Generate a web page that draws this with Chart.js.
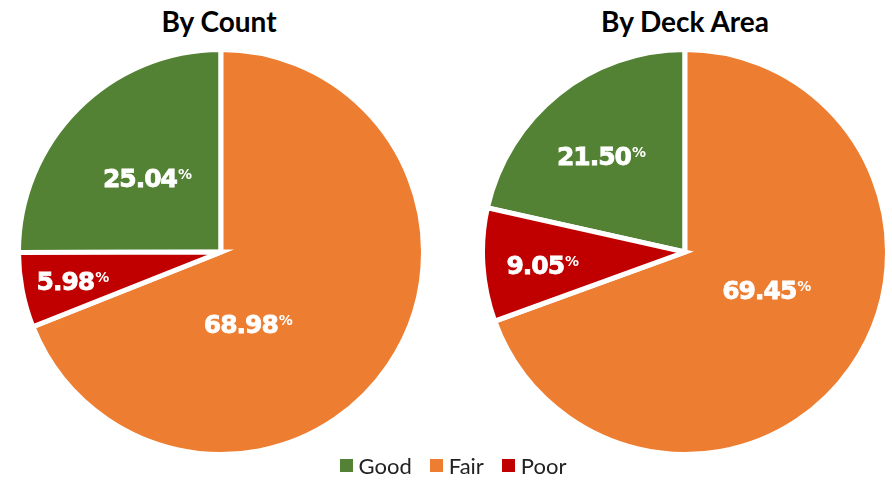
<!DOCTYPE html>
<html lang="en">
<head>
  <meta charset="UTF-8">
  <title>Deck Condition</title>
  <style>
    body { margin: 0; padding: 0; background: #fff; width: 892px; height: 480px; overflow: hidden; position: relative; font-family: Lato, "Open Sans", sans-serif; }
    .title { position: absolute; top: 4px; width: 420px; text-align: center; font-weight: 700; font-size: 28px; color: #000; }
    .pie { position: absolute; top: 47px; }
    .legend { position: absolute; top: 452px; left: 0; width: 892px; display: flex; justify-content: center; gap: 18px; font-size: 22px; color: #222; padding-left: 14px; box-sizing: border-box; }
    .legend span { display: flex; align-items: center; }
    .legend i { display: inline-block; width: 13px; height: 13px; margin-right: 6px; }
  </style>
  <script src="https://cdn.jsdelivr.net/npm/chart.js"></script>
</head>
<body>
  <div class="title" id="t0" style="left:9px"></div>
  <div class="title" id="t1" style="left:475px"></div>
  <canvas class="pie" id="pie0" width="410" height="410" style="left:16px"></canvas>
  <canvas class="pie" id="pie1" width="410" height="410" style="left:480px"></canvas>
  <div class="legend" id="legend"></div>

  <script>
    // data
    const categories = ['Good', 'Fair', 'Poor'];
    const countShares = [25.04, 68.98, 5.98];
    const areaShares = [21.50, 69.45, 9.05];
    const chartTitles = ['By Count', 'By Deck Area'];
    const colors = ['#548235', '#ED7D31', '#C00000'];

    // where each label sits: r = fraction of radius, a = angle (deg clockwise from top), else slice middle
    const labelSpots = [
      [{ r: 0.52 }, { r: 0.38, a: 160 }, { r: 0.75 }],
      [{ r: 0.63, a: -41.5 }, { r: 0.44, a: 115 }, { r: 0.71, a: -95 }]
    ];

    const pctLabels = {
      id: 'pctLabels',
      afterDatasetsDraw(chart, args, opts) {
        const ctx = chart.ctx;
        const meta = chart.getDatasetMeta(0);
        const values = chart.data.datasets[0].data;
        meta.data.forEach((arc, i) => {
          const p = arc.getProps(['x', 'y', 'startAngle', 'endAngle', 'outerRadius'], true);
          const spot = opts.spots[i];
          const ang = spot.a !== undefined ? (spot.a - 90) * Math.PI / 180 : (p.startAngle + p.endAngle) / 2;
          const cx = p.x + Math.cos(ang) * p.outerRadius * spot.r;
          const cy = p.y + Math.sin(ang) * p.outerRadius * spot.r;
          const num = values[i].toFixed(2);
          ctx.save();
          ctx.fillStyle = '#fff';
          ctx.strokeStyle = '#fff';
          ctx.lineWidth = 0.8;
          ctx.textBaseline = 'alphabetic';
          ctx.letterSpacing = '-1px';
          ctx.font = 'bold 25px "DejaVu Sans"';
          const wNum = ctx.measureText(num).width;
          ctx.font = 'bold 14px "DejaVu Sans"';
          const wPct = ctx.measureText('%').width;
          const x0 = cx - (wNum + wPct) / 2;
          const base = cy + 9;
          ctx.font = 'bold 25px "DejaVu Sans"';
          ctx.textAlign = 'left';
          ctx.fillText(num, x0, base);
          ctx.strokeText(num, x0, base);
          ctx.font = 'bold 14px "DejaVu Sans"';
          ctx.fillText('%', x0 + wNum + 1, base - 8);
          ctx.restore();
        });
      }
    };

    function makePie(id, values, spots) {
      return new Chart(document.getElementById(id), {
        type: 'pie',
        data: {
          labels: categories,
          datasets: [{
            data: values,
            backgroundColor: colors,
            borderColor: '#fff',
            borderWidth: 5,
            borderJoinStyle: 'miter'
          }]
        },
        options: {
          responsive: false,
          animation: false,
          rotation: -values[0] * 3.6,
          layout: { padding: 0 },
          plugins: {
            legend: { display: false },
            tooltip: { enabled: false },
            pctLabels: { spots }
          }
        },
        plugins: [pctLabels]
      });
    }

    makePie('pie0', countShares, labelSpots[0]);
    makePie('pie1', areaShares, labelSpots[1]);

    chartTitles.forEach((t, i) => document.getElementById('t' + i).textContent = t);

    const legend = document.getElementById('legend');
    categories.forEach((c, i) => {
      const s = document.createElement('span');
      s.innerHTML = '<i style="background:' + colors[i] + '"></i>' + c;
      legend.appendChild(s);
    });
  </script>
</body>
</html>
